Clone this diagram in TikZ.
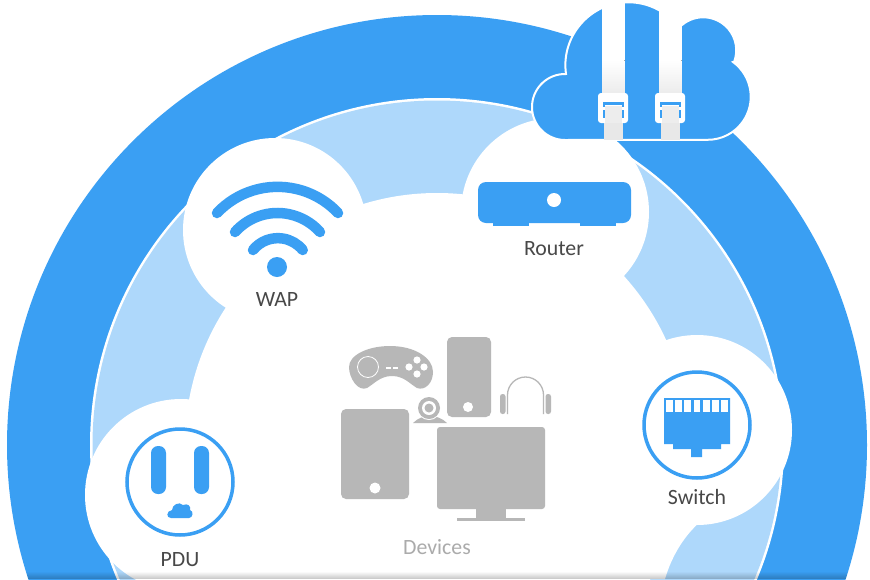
\documentclass[tikz,border=0pt]{standalone}
\usepackage{fontspec}
\setmainfont{Carlito}
\usepackage{tikz}
\definecolor{ringblue}{HTML}{3A9FF3}
\definecolor{paleblue}{HTML}{AED8FB}
\definecolor{devgray}{HTML}{B7B7B7}
\definecolor{labelgray}{HTML}{484848}
\tikzset{
  devlabel/.style={text=labelgray,font=\fontsize{21.8}{24}\selectfont,inner sep=0pt},
  bluefill/.style={fill=ringblue,draw=none},
  grayfill/.style={fill=devgray,draw=none},
  whitefill/.style={fill=white,draw=none},
  wave/.style={draw=ringblue,line width=10.5pt,line cap=round},
  badge/.style={draw=ringblue,line width=3.5pt,fill=white},
  strapfill/.style={top color=white,bottom color=black!9,draw=none}
}
\begin{document}
\begin{tikzpicture}[x=1pt,y=-1pt]
    \useasboundingbox (0,0) rectangle (870,579);
    \clip (0,0) rectangle (870,579);
    % rings
    \fill [white] (0,0) rectangle (870,579);
    \fill [bluefill] (437,445) circle (430);
    \fill [white] (437,445) circle (347);
    \fill [paleblue] (437,445) circle (344.5);
    % white cloud
    \fill [whitefill] (437,445) circle (252);
    \fill [whitefill] (275,230) circle (92);
    \fill [whitefill] (555,212) circle (94);
    \fill [whitefill] (697,430) circle (95);
    \fill [whitefill] (181,495) circle (96);
    \fill [whitefill] (700,522) .. controls (685,535) and (672,555) .. (665,579) -- (437,579) -- (560,500) -- cycle;
    % bottom shadow
    \begin{scope}
      \clip (437,445) circle (430);
      \foreach \i in {0,...,6}
        \fill [black, opacity=0.02+0.03*\i] (0,572+\i) rectangle (870,573+\i);
    \end{scope}
    % sky cloud
    \path [fill=ringblue, draw=white, line width=2pt] (565,140) arc (90:265:33) -- (566,74) arc (172:300:63)
       -- (682,25) arc (230:380:33) -- (733,62) arc (-54:90:43) -- cycle;
    % straps
    \foreach \sx in {602,659} {
      \fill [white] (\sx,0) rectangle ++(22.5,60);
      \fill [strapfill] (\sx,60) rectangle ++(22.5,40);
      \fill [white, rounded corners=3pt] (\sx-4,93) rectangle ++(30,30);
      \fill [black!7] (\sx+3,106) rectangle ++(16.5,17);
      \fill [bluefill] (\sx+1,102) rectangle ++(20.5,2.5);
      \fill [bluefill] (\sx+1,102) rectangle ++(1.5,5);
      \fill [bluefill] (\sx+20,102) rectangle ++(1.5,5);
      \fill [bluefill] (\sx+1,110) rectangle ++(1.5,8);
      \fill [bluefill] (\sx+20,110) rectangle ++(1.5,8);
      \fill [black!9] (\sx+1.5,123) rectangle ++(19.5,17);
    }
    % wap
    \draw [wave] (217,213) arc (-136.8:-43.2:83);
    \draw [wave] (235,232) arc (-138.2:-41.8:57);
    \draw [wave] (253,250) arc (-141:-39:32);
    \fill [bluefill] (277,267) circle (10);
    \node [devlabel] (wap) at (277,300) {WAP};
    % router
    \fill [bluefill, rounded corners=8pt] (478,182) rectangle (631,223);
    \fill [bluefill] (493,220) rectangle (529,226);
    \fill [bluefill] (580,220) rectangle (616,226);
    \fill [white] (554,200) circle (7);
    \node [devlabel] (router) at (554,249) {Router};
    % switch
    \fill [badge] (697,425) circle (53);
    \fill [bluefill] (664,398) -- (730,398) -- (730,444) -- (721,444) -- (721,449) -- (702,449) -- (702,457) -- (691,457) -- (691,449) -- (673,449) -- (673,444) -- (664,444) -- cycle;
    \foreach \i in {0,...,6}
      \fill [white] (666+\i*9.2,399.5) rectangle ++(6.7,12.5);
    \node [devlabel] (switch) at (697,497) {Switch};
    % pdu
    \fill [badge] (180,482) circle (53);
    \fill [bluefill, rounded corners=7pt] (151,446) rectangle (166,494);
    \fill [bluefill, rounded corners=7pt] (194,446) rectangle (209,494);
    \fill [bluefill] (171,518) .. controls (166,518) and (166,511) .. (172,510)
       .. controls (172,505) and (179,501) .. (183,505)
       .. controls (188,503) and (191,506) .. (190,510)
       .. controls (194,511) and (193,518) .. (189,518) -- cycle;
    \node [devlabel] (pdu) at (180,560) {PDU};
    % devices
    \fill [grayfill, rounded corners=5pt] (447,337) rectangle (491,417);
    \fill [white] (468,407) circle (5);
    \fill [grayfill, rounded corners=5pt] (341,409) rectangle (409,499);
    \fill [white] (375,488) circle (5.5);
    \fill [grayfill, rounded corners=3pt] (437,427) rectangle (545,509);
    \fill [grayfill] (476,509) rectangle (506,518);
    \fill [grayfill] (457,518) rectangle (525,521);
    % gamepad
    \fill [grayfill] (390,346) .. controls (415,346) and (433,358) .. (433,372)
       .. controls (433,383) and (425,391) .. (417,388)
       .. controls (410,384) and (404,376) .. (392,376)
       .. controls (380,376) and (374,384) .. (367,388)
       .. controls (358,392) and (349,378) .. (349,367)
       .. controls (349,355) and (368,346) .. (390,346) -- cycle;
    \draw [white, line width=0.8pt] (368,367) circle (10.5);
    \fill [white] (386,366.5) rectangle (391,368.5);
    \fill [white] (393,366.5) rectangle (398,368.5);
    \foreach \gx/\gy in {417/360,417/374,409/367,424/367}
      \fill [white] (\gx,\gy) circle (3.6);
    % webcam
    \fill [grayfill] (413,423) .. controls (418,418) and (424,416) .. (429,416) .. controls (436,416) and (442,418) .. (447,423) -- cycle;
    \fill [white] (429,408) circle (12);
    \fill [grayfill] (429,408) circle (11);
    \fill [white] (429,408) circle (7);
    \fill [grayfill] (429,408) circle (4.5);
    % headphones
    \draw [devgray, line width=1.3pt] (507.5,414) -- (507.5,395) arc (180:360:18) -- (543.5,414);
    \fill [grayfill, rounded corners=2.5pt] (500,394) -- (505.5,394) -- (505.5,414) -- (500,414) -- cycle;
    \fill [grayfill, rounded corners=2.5pt] (545.5,394) -- (551,394) -- (551,414) -- (545.5,414) -- cycle;
    \node [devlabel, text=black!33] (devices) at (437,547) {Devices};
\end{tikzpicture}
\end{document}
